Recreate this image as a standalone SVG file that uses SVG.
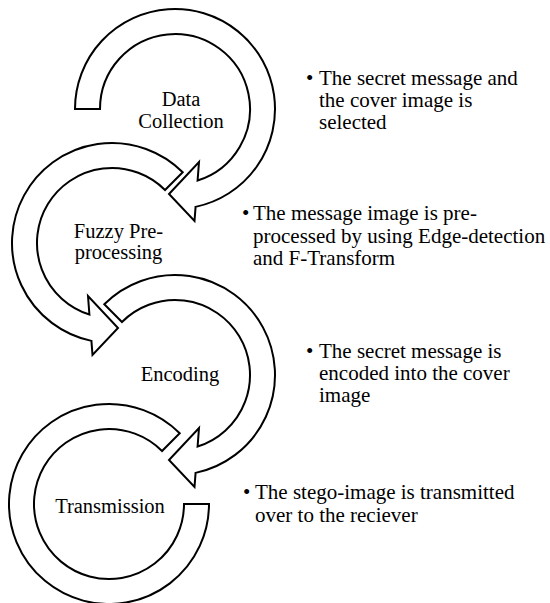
<svg xmlns="http://www.w3.org/2000/svg" width="550" height="603" viewBox="0 0 550 603">
<style>
.ring{fill:#ffffff;stroke:#000000;stroke-width:2;stroke-linejoin:miter}
.lbl{font-family:"Liberation Serif","Times New Roman",serif;font-size:20.5px;fill:#000000;text-anchor:middle}
.txt{font-family:"Liberation Serif","Times New Roman",serif;font-size:21px;fill:#000000}
</style>
<rect width="550" height="603" fill="#ffffff"/>
<g id="node-data-collection">
<path class="ring" transform="translate(175,109)" d="M-100,0 A100,100 0 1 1 20.58,97.86 L19.5,112 L-6,85 L24,53 L22.59,71.52 A75,75 0 1 0 -75,0 Z"/>
<text class="lbl" x="181" y="106">Data</text>
<text class="lbl" x="181" y="127.5">Collection</text>
</g>
<g id="node-fuzzy">
<path class="ring" transform="translate(112,243)" d="M70.71,-70.71 A100,100 0 1 0 -20.58,97.86 L-19.5,112 L6,85 L-24,53 L-22.59,71.52 A75,75 0 1 1 53.03,-53.03 Z"/>
<text class="lbl" x="118.5" y="238">Fuzzy Pre-</text>
<text class="lbl" x="118.5" y="258.5">processing</text>
</g>
<g id="node-encoding">
<path class="ring" transform="translate(175,375)" d="M-70.71,-70.71 A100,100 0 1 1 20.58,97.86 L19.5,112 L-6,85 L24,53 L22.59,71.52 A75,75 0 1 0 -53.03,-53.03 Z"/>
<text class="lbl" x="180" y="381">Encoding</text>
</g>
<g id="node-transmission">
<path class="ring" transform="translate(109,504)" d="M70.71,-70.71 A100,100 0 1 0 100,0 L75,0 A75,75 0 1 1 53.03,-53.03 Z"/>
<text class="lbl" x="110" y="513">Transmission</text>
</g>
<g id="desc-1">
<text class="txt" x="306" y="85">•</text>
<text class="txt" x="319" y="85">The secret message and</text>
<text class="txt" x="319" y="107">the cover image is</text>
<text class="txt" x="319" y="129">selected</text>
</g>
<g id="desc-2">
<text class="txt" x="242" y="220">•</text>
<text class="txt" x="253" y="220">The message image is pre-</text>
<text class="txt" x="253" y="242.5">processed by using Edge-detection</text>
<text class="txt" x="253" y="265">and F-Transform</text>
</g>
<g id="desc-3">
<text class="txt" x="306" y="358">•</text>
<text class="txt" x="319" y="358">The secret message is</text>
<text class="txt" x="319" y="380">encoded into the cover</text>
<text class="txt" x="319" y="402">image</text>
</g>
<g id="desc-4">
<text class="txt" x="243" y="498.5">•</text>
<text class="txt" x="255" y="498.5">The stego-image is transmitted</text>
<text class="txt" x="255" y="521.5">over to the reciever</text>
</g>
</svg>
